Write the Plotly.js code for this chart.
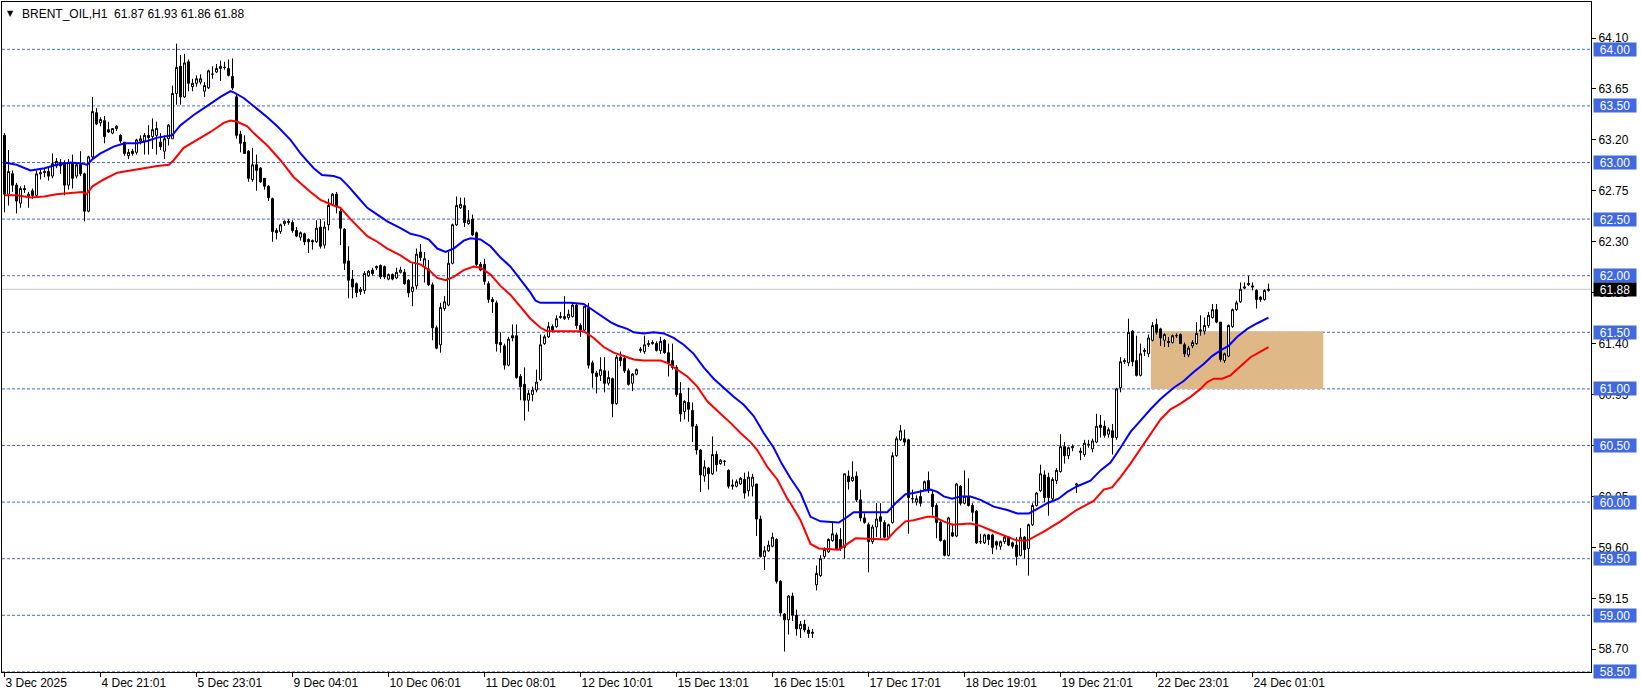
<!DOCTYPE html>
<html><head><meta charset="utf-8">
<script src="https://cdn.plot.ly/plotly-3.0.1.min.js"></script>
<style>html,body{margin:0;padding:0;background:#fff;overflow:hidden}#chart{width:1641px;height:696px}</style>
</head><body><div id="chart"></div>
<script>
const openP=[
63.24,62.72,62.90,62.80,62.64,62.77,62.70,62.75,62.71,62.90,
62.91,62.92,62.88,62.97,63.00,63.00,62.80,63.00,62.88,62.98,
62.90,62.57,63.05,63.44,63.35,63.37,63.29,63.26,63.30,63.24,
63.18,63.06,63.10,63.09,63.19,63.19,63.24,63.23,63.24,63.18,
63.10,63.21,63.21,63.61,63.85,63.58,63.89,63.67,63.70,63.71,
63.63,63.66,63.78,63.80,63.85,63.84,63.83,63.76,63.58,63.25,
63.18,63.10,62.85,62.98,62.95,62.86,62.79,62.68,62.40,62.39,
62.46,62.47,62.47,62.40,62.34,62.37,62.32,62.31,62.30,62.43,
62.27,62.45,62.63,62.72,62.57,62.41,62.13,61.97,61.93,61.86,
61.87,62.00,62.05,62.07,62.09,62.08,61.97,62.01,61.98,62.03,
62.03,61.96,61.86,61.91,62.21,62.08,62.06,61.92,61.54,61.39,
61.71,61.74,62.11,62.45,62.60,62.62,62.46,62.50,62.38,62.10,
62.10,61.93,61.79,61.76,61.41,61.38,61.21,61.47,61.47,61.11,
61.04,60.90,60.95,60.99,61.08,61.40,61.46,61.55,61.55,61.63,
61.62,61.63,61.64,61.74,61.56,61.52,61.71,61.23,61.14,61.12,
61.16,61.05,61.09,60.87,61.28,61.27,61.16,61.05,61.13,61.34,
61.33,61.39,61.40,61.40,61.34,61.43,61.32,61.25,61.19,60.96,
60.80,60.88,60.81,60.67,60.46,60.23,60.30,60.25,60.42,60.34,
60.36,60.28,60.14,60.14,60.16,60.20,60.10,60.14,60.16,59.85,
59.52,59.57,59.61,59.67,59.30,59.01,58.96,59.17,59.00,58.88,
58.92,58.87,58.84,59.27,59.35,59.52,59.56,59.66,59.71,59.67,
59.60,60.23,60.19,60.23,60.02,59.86,59.80,59.65,59.78,59.87,
59.82,59.69,59.82,60.41,60.55,60.56,60.55,60.03,60.00,60.05,
60.11,60.19,60.07,59.97,59.82,59.66,59.53,59.73,59.70,60.14,
59.99,60.05,59.97,59.92,59.65,59.64,59.71,59.71,59.65,59.61,
59.65,59.69,59.64,59.62,59.53,59.69,59.59,59.80,59.97,60.10,
60.24,60.22,60.03,60.19,60.27,60.49,60.41,60.48,60.15,60.45,
60.42,60.51,60.47,60.53,60.68,60.67,60.60,60.63,60.57,61.01,
61.24,61.23,61.51,61.25,61.12,61.33,61.31,61.43,61.57,61.53,
61.43,61.42,61.41,61.47,61.48,61.39,61.30,61.38,61.40,61.51,
61.51,61.56,61.63,61.70,61.59,61.25,61.29,61.55,61.70,61.77,
61.89,61.92,61.91,61.87,61.81,61.79,61.87];
const highP=[
63.26,63.11,62.93,62.82,62.79,62.80,62.74,62.77,62.93,62.94,
62.95,62.96,63.08,63.04,63.03,63.02,63.03,63.07,63.00,63.10,
62.91,63.06,63.58,63.48,63.40,63.41,63.36,63.30,63.33,63.25,
63.18,63.12,63.12,63.21,63.24,63.26,63.33,63.39,63.36,63.26,
63.24,63.34,63.68,64.05,63.95,63.96,63.91,63.74,63.77,63.78,
63.71,63.82,63.85,63.87,63.90,63.89,63.91,63.92,63.61,63.28,
63.24,63.11,63.13,63.07,62.96,62.86,62.80,62.69,62.42,62.46,
62.49,62.50,62.49,62.43,62.39,62.38,62.33,62.32,62.49,62.50,
62.48,62.68,62.73,62.74,62.59,62.42,62.26,62.05,61.94,61.90,
62.04,62.05,62.07,62.09,62.10,62.09,62.02,62.02,62.07,62.08,
62.06,61.97,62.11,62.24,62.28,62.21,62.14,61.94,61.56,61.76,
61.82,62.21,62.46,62.70,62.69,62.69,62.58,62.54,62.39,62.12,
62.15,61.95,61.81,61.78,61.50,61.40,61.46,61.57,61.57,61.13,
61.19,60.99,61.02,61.17,61.48,61.48,61.59,61.57,61.65,61.68,
61.82,61.70,61.76,61.75,61.58,61.73,61.76,61.25,61.16,61.28,
61.28,61.16,61.10,61.30,61.33,61.30,61.18,61.14,61.18,61.37,
61.47,61.43,61.43,61.42,61.46,61.44,61.40,61.40,61.21,61.06,
60.90,61.01,60.88,60.69,60.47,60.37,60.31,60.58,60.45,60.38,
60.37,60.29,60.20,60.20,60.22,60.26,60.27,60.25,60.16,59.88,
59.61,59.66,59.73,59.68,59.31,59.02,59.18,59.20,59.05,58.95,
58.96,58.90,58.88,59.44,59.53,59.60,59.68,59.82,59.73,59.77,
60.25,60.28,60.36,60.27,60.11,59.90,59.82,59.80,59.99,59.99,
59.84,59.81,60.44,60.58,60.68,60.64,60.56,60.11,60.06,60.11,
60.19,60.27,60.10,59.99,59.84,59.67,59.87,59.81,60.17,60.15,
60.28,60.21,59.99,59.93,59.72,59.72,59.72,59.72,59.66,59.66,
59.71,59.70,59.65,59.69,59.77,59.70,59.81,59.99,60.09,60.33,
60.28,60.26,60.22,60.30,60.60,60.53,60.49,60.51,60.17,60.48,
60.55,60.55,60.56,60.78,60.77,60.72,60.66,60.69,61.01,61.28,
61.27,61.62,61.52,61.47,61.40,61.36,61.48,61.59,61.62,61.54,
61.49,61.46,61.48,61.49,61.49,61.41,61.38,61.43,61.59,61.65,
61.63,61.68,61.75,61.75,61.59,61.32,61.57,61.71,61.78,61.94,
61.94,62.00,61.94,61.88,61.82,61.88,61.93];
const lowP=[
62.56,62.62,62.74,62.55,62.60,62.73,62.60,62.68,62.69,62.85,
62.87,62.84,62.86,62.95,62.90,62.71,62.76,62.77,62.86,62.88,
62.48,62.56,63.04,63.33,63.32,63.17,63.26,63.25,63.28,63.17,
63.06,63.03,63.06,63.07,63.16,63.07,63.07,63.12,63.07,63.11,
63.03,63.15,63.21,63.51,63.51,63.57,63.63,63.63,63.67,63.69,
63.58,63.65,63.74,63.79,63.72,63.82,63.76,63.64,63.21,63.09,
63.08,62.83,62.83,62.75,62.82,62.76,62.66,62.30,62.32,62.37,
62.44,62.45,62.38,62.34,62.31,62.27,62.20,62.23,62.29,62.24,
62.24,62.40,62.62,62.55,62.27,62.05,61.80,61.80,61.81,61.83,
61.84,61.99,62.00,62.05,61.97,61.97,61.96,61.96,61.97,62.02,
61.92,61.81,61.73,61.88,62.13,61.94,61.91,61.43,61.35,61.32,
61.69,61.73,62.10,62.44,62.59,62.43,62.45,62.35,62.08,62.04,
61.92,61.76,61.67,61.33,61.32,61.17,61.20,61.42,61.09,60.90,
60.72,60.80,60.89,60.97,61.07,61.39,61.45,61.50,61.54,61.62,
61.61,61.61,61.63,61.53,61.46,61.51,61.18,61.01,60.96,61.07,
60.97,61.03,60.75,60.86,61.20,61.14,61.03,60.98,61.12,61.32,
61.31,61.37,61.39,61.33,61.31,61.31,61.11,61.17,60.93,60.71,
60.73,60.71,60.53,60.42,60.09,60.18,60.11,60.24,60.27,60.33,
60.32,60.12,60.11,60.13,60.15,60.03,60.05,60.05,59.70,59.51,
59.40,59.56,59.60,59.28,58.99,58.68,58.83,58.95,58.82,58.80,
58.85,58.80,58.80,59.22,59.34,59.50,59.55,59.65,59.58,59.57,
59.50,60.11,60.18,60.00,59.83,59.81,59.38,59.63,59.69,59.68,
59.68,59.67,59.81,60.40,60.54,60.50,59.72,59.99,59.97,59.96,
60.10,60.08,59.88,59.68,59.65,59.52,59.52,59.69,59.69,59.97,
59.98,59.96,59.83,59.63,59.63,59.63,59.62,59.54,59.58,59.58,
59.63,59.61,59.59,59.44,59.52,59.50,59.35,59.79,59.96,60.09,
60.00,59.88,60.00,60.16,60.26,60.34,60.38,60.45,60.08,60.37,
60.40,60.48,60.44,60.52,60.57,60.57,60.57,60.42,60.55,60.97,
61.22,61.20,61.20,61.11,61.11,61.29,61.28,61.42,61.48,61.38,
61.37,61.37,61.40,61.45,61.40,61.28,61.28,61.36,61.39,61.47,
61.48,61.54,61.62,61.58,61.24,61.23,61.28,61.54,61.69,61.76,
61.88,61.91,61.87,61.71,61.77,61.78,61.86];
const closeP=[
62.72,62.92,62.80,62.66,62.77,62.76,62.72,62.71,62.90,62.91,
62.92,62.88,62.99,63.01,62.97,62.80,63.00,62.86,62.98,62.90,
62.57,63.05,63.45,63.34,63.38,63.23,63.27,63.30,63.32,63.19,
63.08,63.09,63.08,63.20,63.21,63.24,63.22,63.29,63.30,63.14,
63.21,63.33,63.61,63.84,63.58,63.88,63.70,63.70,63.74,63.74,
63.68,63.81,63.78,63.83,63.83,63.84,63.77,63.66,63.24,63.17,
63.08,62.86,62.98,62.93,62.83,62.79,62.69,62.39,62.38,62.45,
62.48,62.48,62.40,62.35,62.38,62.30,62.30,62.30,62.42,62.26,
62.43,62.62,62.72,62.61,62.42,62.11,61.96,61.90,61.85,61.88,
62.02,62.04,62.02,62.08,61.99,61.99,62.01,61.97,62.03,62.05,
61.93,61.85,61.90,62.19,62.16,62.15,61.92,61.54,61.36,61.72,
61.77,62.11,62.45,62.62,62.63,62.47,62.49,62.36,62.10,62.05,
61.95,61.79,61.77,61.40,61.39,61.21,61.44,61.45,61.10,61.02,
60.90,60.96,60.99,61.06,61.39,61.46,61.55,61.52,61.62,61.64,
61.64,61.66,61.74,61.56,61.52,61.73,61.21,61.14,61.11,61.17,
61.05,61.10,60.87,61.28,61.25,61.16,61.04,61.13,61.17,61.35,
61.39,61.40,61.41,61.34,61.42,61.32,61.23,61.19,60.95,60.78,
60.89,60.82,60.67,60.46,60.24,60.31,60.25,60.42,60.33,60.37,
60.36,60.14,60.15,60.18,60.21,60.08,60.22,60.22,59.85,59.52,
59.57,59.62,59.69,59.30,59.02,58.96,59.17,59.00,58.88,58.92,
58.87,58.84,58.85,59.37,59.50,59.58,59.67,59.72,59.59,59.59,
60.25,60.18,60.22,60.02,59.86,59.82,59.65,59.78,59.85,59.83,
59.69,59.80,60.41,60.56,60.63,60.53,60.04,60.03,60.03,59.99,
60.18,60.11,59.96,59.82,59.66,59.53,59.86,59.70,60.16,59.99,
60.05,59.97,59.91,59.64,59.65,59.71,59.67,59.60,59.62,59.65,
59.69,59.62,59.61,59.52,59.69,59.58,59.80,59.97,60.08,60.25,
60.04,60.04,60.20,60.28,60.49,60.41,60.48,60.49,60.16,60.44,
60.52,60.51,60.54,60.67,60.66,60.59,60.64,60.57,61.00,61.24,
61.25,61.50,61.24,61.12,61.31,61.34,61.45,61.56,61.50,61.45,
61.48,61.41,61.47,61.47,61.40,61.31,61.36,61.41,61.49,61.52,
61.56,61.65,61.70,61.59,61.26,61.31,61.56,61.70,61.76,61.88,
61.90,61.93,61.90,61.79,61.79,61.87,61.88];

// moving averages (bar index, price)
const blueX=[0,3,6.5,10,13,16.5,19.5,20.7,22,24,
27.3,30,33,35.7,38.2,41.9,44,47.3,50.7,54,
56.5,57.3,59.8,62.3,65.7,68.2,71.5,74,77.3,79.4,
82.3,84,85.7,88.2,90.7,93.2,95.7,99,101.5,104,
106.1,108.2,110.25,112.3,114.8,116.5,119,121.5,124,126.5,
129,131.5,132.75,134,141.5,144.8,146.5,149,151.5,153.2,
155.7,157.3,159.8,162.3,164.8,167.3,169.8,172.3,174.8,177.3,
179.8,182.3,184.8,187.3,189.8,192.3,194.3,196.5,199,201.5,
204,208.6,210.7,212.3,220.7,222.75,225.25,227.3,229.8,231.5,
233.2,234.8,236.9,239,241.5,244,247.3,250.7,253.2,256.1,
258.2,260.7,263.5,265.7,268.2,271.5,274,276.5,279,281.5,
284,286.5,289,292.3,294.8,297.3,299.8,301.9,304,306,
308.2,310.7,313.2,316];
const blueY=[63.00,62.98,62.93,62.95,62.98,63.00,62.99,62.98,63.03,63.08,
63.14,63.17,63.17,63.19,63.22,63.24,63.33,63.42,63.50,63.58,
63.63,63.62,63.57,63.50,63.40,63.32,63.20,63.08,62.95,62.89,
62.88,62.86,62.80,62.70,62.60,62.54,62.48,62.42,62.37,62.35,
62.32,62.24,62.21,62.24,62.31,62.33,62.32,62.26,62.16,62.08,
61.97,61.85,61.78,61.76,61.76,61.75,61.71,61.65,61.59,61.56,
61.53,61.50,61.49,61.50,61.49,61.45,61.39,61.31,61.19,61.09,
61.01,60.93,60.86,60.76,60.61,60.48,60.34,60.21,60.08,59.87,
59.83,59.82,59.87,59.91,59.91,59.99,60.07,60.08,60.10,60.11,
60.09,60.05,60.03,60.05,60.05,60.02,59.96,59.93,59.90,59.90,
59.94,59.99,60.03,60.09,60.14,60.19,60.28,60.35,60.48,60.62,
60.72,60.82,60.91,61.01,61.07,61.15,61.22,61.29,61.34,61.38,
61.46,61.53,61.58,61.63];
const redX=[0,3,6.5,10,13,16.5,19.4,20.5,22,24.8,
28.2,31.5,34.8,38.2,41.1,42.3,44.8,48.2,51.5,54.8,
56.5,58.2,60.7,62.3,65.7,69,72.3,76.5,79,82.3,
84,86.5,88.2,90.7,93.2,95.7,99,101.5,104,106.1,
108.2,110.25,112.3,114.8,117.3,119,121.5,124,126.5,129,
131.5,134,135.7,144.8,147.3,149.8,152.3,154.8,157.3,159.8,
164,165.7,168.2,170.7,173.2,175.7,179,181.5,184,186.5,
188.2,190.7,193.2,194.5,195.7,196.5,199,201.5,203.6,208.6,
210.7,212.75,220.7,222.75,225.25,227.3,230.7,232.3,234.8,236.9,
241.5,244,247.3,250.7,253.2,255.7,257.3,259.8,264,268,
272.3,274.8,276.9,279,281.5,284,286.5,289,291.5,294,
296.5,299,300.7,302.3,304.4,306.5,309,311.5,314,316];
const redY=[62.71,62.71,62.69,62.70,62.72,62.73,62.74,62.72,62.79,62.85,
62.91,62.93,62.95,62.97,62.98,63.02,63.13,63.20,63.27,63.35,
63.37,63.36,63.32,63.26,63.15,63.02,62.87,62.74,62.67,62.62,
62.60,62.50,62.44,62.35,62.30,62.24,62.18,62.12,62.10,62.05,
61.98,61.96,61.99,62.05,62.08,62.07,62.01,61.91,61.83,61.73,
61.62,61.54,61.51,61.51,61.45,61.37,61.32,61.29,61.26,61.25,
61.25,61.23,61.17,61.11,61.02,60.89,60.78,60.70,60.61,60.53,
60.46,60.31,60.20,60.11,60.03,59.99,59.84,59.63,59.59,59.58,
59.63,59.68,59.67,59.75,59.83,59.84,59.87,59.87,59.83,59.80,
59.81,59.79,59.74,59.69,59.66,59.66,59.69,59.74,59.83,59.93,
60.01,60.11,60.13,60.22,60.34,60.47,60.60,60.73,60.82,60.87,
60.93,61.00,61.06,61.09,61.09,61.12,61.20,61.28,61.33,61.37];

const tickBars=[0,24,48,72,96,120,144,168,192,216,240,264,288,312];
const tickLabels=["3 Dec 2025","4 Dec 21:01","5 Dec 23:01","9 Dec 04:01","10 Dec 06:01","11 Dec 08:01","12 Dec 10:01","15 Dec 13:01","16 Dec 15:01","17 Dec 17:01","18 Dec 19:01","19 Dec 21:01","22 Dec 23:01","24 Dec 01:01"];
const priceTicks=[58.70,59.15,59.60,60.05,60.50,60.95,61.40,61.85,62.30,62.75,63.20,63.65,64.10];
const levels=[64.00,63.50,63.00,62.50,62.00,61.50,61.00,60.50,60.00,59.50,59.00,58.50];
const lastPrice=61.88;
const zonePrice=[61.00,61.51];
const zoneBars=[286.6,329.7];
const titleText="BRENT_OIL,H1\u00a0\u00a061.87 61.93 61.86 61.88";

const bars=openP.map((_,i)=>i);
const FONT='"Liberation Sans", Arial, sans-serif';

const traces=[
 {type:'candlestick',x:bars,open:openP,high:highP,low:lowP,close:closeP,
  increasing:{line:{color:'#000000',width:1},fillcolor:'#ffffff'},
  decreasing:{line:{color:'#000000',width:1},fillcolor:'#000000'},
  whiskerwidth:0,hoverinfo:'skip',showlegend:false},
 {type:'scatter',mode:'lines',x:blueX,y:blueY,line:{color:'#0000ff',width:2},hoverinfo:'skip',showlegend:false},
 {type:'scatter',mode:'lines',x:redX,y:redY,line:{color:'#ff0000',width:2},hoverinfo:'skip',showlegend:false}
];

const shapes=[
 {type:'rect',xref:'x',yref:'y',x0:zoneBars[0],x1:zoneBars[1],y0:zonePrice[0],y1:zonePrice[1],fillcolor:'#DEB887',line:{width:0},layer:'below'},
 {type:'line',xref:'paper',yref:'y',x0:0,x1:1,y0:lastPrice,y1:lastPrice,line:{color:'#C0C0C0',width:1},layer:'below'}
];
levels.forEach(v=>shapes.push({type:'line',xref:'paper',yref:'y',x0:0,x1:1,y0:v,y1:v,line:{color:'#4169E1',width:1,dash:'3px,2px'},layer:'below'}));

const annotations=[
 {xref:'paper',yref:'paper',x:0,y:1,xanchor:'left',yanchor:'top',xshift:3,yshift:-5,text:'\u25BC',showarrow:false,font:{family:'"DejaVu Sans", sans-serif',size:8,color:'#000'}},
 {xref:'paper',yref:'paper',x:0,y:1,xanchor:'left',yanchor:'top',xshift:18,yshift:-3,text:titleText,showarrow:false,font:{family:FONT,size:12,color:'#000'}}
];
levels.forEach(v=>annotations.push({xref:'paper',yref:'y',x:1,y:v,xanchor:'left',yanchor:'middle',xshift:2,text:v.toFixed(2),showarrow:false,bgcolor:'#4169E1',font:{family:FONT,size:12,color:'#ffffff'},width:40,height:11,borderpad:1,align:'center'}));
annotations.push({xref:'paper',yref:'y',x:1,y:lastPrice,xanchor:'left',yanchor:'middle',xshift:2,text:lastPrice.toFixed(2),showarrow:false,bgcolor:'#000000',font:{family:FONT,size:12,color:'#ffffff'},width:40,height:11,borderpad:1,align:'center'});

const layout={
 width:1641,height:696,margin:{l:2,r:50,t:2,b:24,pad:0},
 paper_bgcolor:'#ffffff',plot_bgcolor:'#ffffff',showlegend:false,hovermode:false,
 font:{family:FONT,size:12,color:'#000'},
 boxgap:0.5,boxgroupgap:0,
 xaxis:{range:[-0.625,396.625],rangeslider:{visible:false},showgrid:false,zeroline:false,
  showline:true,mirror:true,linecolor:'#000',linewidth:1,ticks:'outside',ticklen:4,tickcolor:'#000',
  tickmode:'array',tickvals:tickBars,ticktext:tickLabels,ticklabelposition:'outside right',
  tickfont:{family:FONT,size:12,color:'#000'},fixedrange:true},
 yaxis:{range:[58.499,64.418],side:'right',showgrid:false,zeroline:false,
  showline:true,mirror:true,linecolor:'#000',linewidth:1,ticks:'outside',ticklen:4,tickcolor:'#000',
  tickmode:'array',tickvals:priceTicks,ticktext:priceTicks.map(v=>v.toFixed(2)),
  tickfont:{family:FONT,size:12,color:'#000'},fixedrange:true},
 shapes:shapes,annotations:annotations
};
Plotly.newPlot('chart',traces,layout,{staticPlot:true,displayModeBar:false});
</script>
</body></html>
